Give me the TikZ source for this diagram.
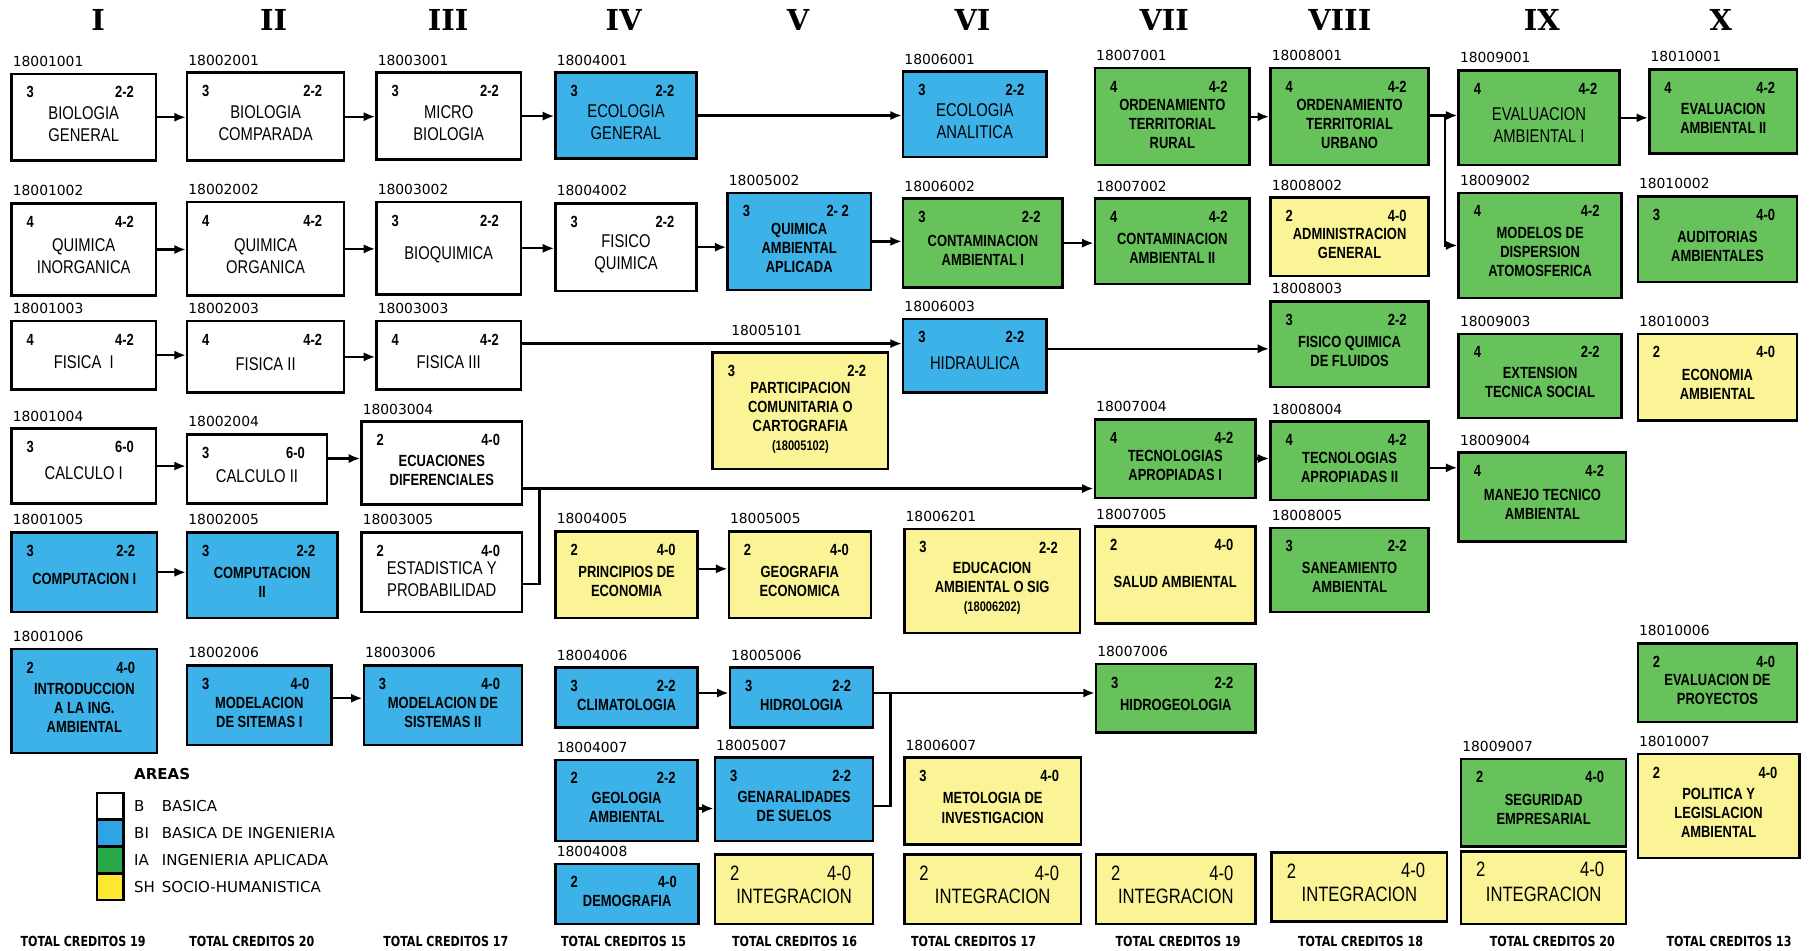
\documentclass[tikz,border=0pt]{standalone}
\usepackage{fontspec}
\setmainfont{Liberation Sans}
\newfontfamily\angosta[FakeStretch=0.8]{Liberation Sans}
\newfontfamily\codfont{DejaVu Sans}
\newfontfamily\totfont[FakeStretch=0.8]{DejaVu Sans}
\newfontfamily\romfont{DejaVu Serif}
\usetikzlibrary{
    arrows.meta,
    calc,
    positioning
}
\definecolor{azul}{RGB}{60,178,232}
\definecolor{verde}{RGB}{104,194,92}
\definecolor{amarillo}{RGB}{250,244,150}
\definecolor{azulley}{RGB}{45,165,228}
\definecolor{verdeley}{RGB}{40,168,72}
\definecolor{amarilloley}{RGB}{252,232,50}
\tikzset{
    caja/.style={draw=black, line width=2.2pt, rectangle, inner sep=0pt},
    basica/.style={fill=white},
    bing/.style={fill=azul},
    iapl/.style={fill=verde},
    sohu/.style={fill=amarillo},
    tit/.style={font=\angosta\fontsize{16}{19}\selectfont, align=center, inner sep=0pt},
    negrita/.style={font=\angosta\bfseries\fontsize{14}{16.5}\selectfont},
    cred/.style={font=\angosta\bfseries\fontsize{14}{14}\selectfont, inner sep=0pt},
    codigo/.style={font=\codfont\fontsize{12}{12}\selectfont, inner sep=0pt},
    flecha/.style={line width=2pt, -{Latex[length=10pt, width=8pt]}},
    linea/.style={line width=2pt},
    romano/.style={font=\romfont\bfseries\fontsize{25}{25}\selectfont, inner sep=0pt},
    total/.style={font=\totfont\bfseries\fontsize{12}{12}\selectfont, inner sep=0pt},
    muestra/.style={draw=black, line width=2pt, minimum width=23pt, minimum height=23pt, inner sep=0pt},
    leytxt/.style={font=\codfont\fontsize{13}{13}\selectfont, inner sep=0pt, anchor=west}
}
\newcommand{\materia}[9]{%
    \node[caja, #5, minimum width=#3pt, minimum height=#4pt] (#1) at #2 {};
    \node[tit, #5, fill=none] (#1-t) at ([yshift=-6pt]#1.center) {#9};
    \node[cred, anchor=west] (#1-c) at ([xshift=14pt, yshift=-17pt]#1.north west) {#7};
    \node[cred, anchor=east] (#1-h) at ([xshift=-20pt, yshift=-17pt]#1.north east) {#8};
    \node[codigo, anchor=south west] (#1-k) at ([xshift=2pt, yshift=5pt]#1.north west) {#6};
}
\newcommand{\grande}[1]{{\mdseries\fontsize{18}{18}\selectfont #1}}

\begin{document}
\begin{tikzpicture}[x=1pt, y=-1pt]
    \fill[white] (0, 0) rectangle (1568, 823);
    \useasboundingbox (0, 0) rectangle (1568, 823);

    \node[romano] (r1) at (85, 17) {I};
    \node[romano] (r2) at (237, 17) {II};
    \node[romano] (r3) at (388, 17) {III};
    \node[romano] (r4) at (540, 17) {IV};
    \node[romano] (r5) at (691, 17) {V};
    \node[romano] (r6) at (842, 17) {VI};
    \node[romano] (r7) at (1008, 17) {VII};
    \node[romano] (r8) at (1160, 17) {VIII};
    \node[romano] (r9) at (1335, 17) {IX};
    \node[romano] (r10) at (1490, 17) {X};

    \materia{a1}{(72.5, 101.5)}{125}{75}{basica}{18001001}{3}{2-2}{BIOLOGIA\\GENERAL}
    \materia{a2}{(72.5, 216)}{125}{80}{basica}{18001002}{4}{4-2}{QUIMICA\\INORGANICA}
    \materia{a3}{(72.5, 307.5)}{125}{59}{basica}{18001003}{4}{4-2}{FISICA~~I}
    \materia{a4}{(72.5, 403.5)}{125}{65}{basica}{18001004}{3}{6-0}{CALCULO I}
    \materia{a5}{(73, 495.5)}{126}{69}{bing, negrita}{18001005}{3}{2-2}{COMPUTACION I}
    \materia{a6}{(73, 607)}{126}{90}{bing, negrita}{18001006}{2}{4-0}{INTRODUCCION\\A LA ING.\\AMBIENTAL}

    \materia{b1}{(230, 101)}{136}{76}{basica}{18002001}{3}{2-2}{BIOLOGIA\\COMPARADA}
    \materia{b2}{(230, 215.5)}{136}{81}{basica}{18002002}{4}{4-2}{QUIMICA\\ORGANICA}
    \materia{b3}{(230, 309)}{136}{62}{basica}{18002003}{4}{4-2}{FISICA II}
    \materia{b4}{(222.5, 406)}{121}{60}{basica}{18002004}{3}{6-0}{CALCULO II}
    \materia{b5}{(227, 498)}{130}{74}{bing, negrita}{18002005}{3}{2-2}{COMPUTACION\\II}
    \materia{b6}{(224.5, 610.5)}{125}{69}{bing, negrita}{18002006}{3}{4-0}{MODELACION\\DE SITEMAS I}

    \materia{c1}{(388.5, 100.5)}{125}{75}{basica}{18003001}{3}{2-2}{MICRO\\BIOLOGIA}
    \materia{c2}{(388.5, 215)}{125}{80}{basica}{18003002}{3}{2-2}{BIOQUIMICA}
    \materia{c3}{(388.5, 307.5)}{125}{59}{basica}{18003003}{4}{4-2}{FISICA III}
    \materia{c4}{(382.5, 401)}{139}{72}{basica, negrita}{18003004}{2}{4-0}{ECUACIONES\\DIFERENCIALES}
    \materia{c5}{(382.5, 495.5)}{139}{69}{basica}{18003005}{2}{4-0}{ESTADISTICA Y\\PROBABILIDAD}
    \materia{c6}{(383.5, 610.5)}{137}{69}{bing, negrita}{18003006}{3}{4-0}{MODELACION DE\\SISTEMAS II}

    \materia{d1}{(542, 100)}{122}{74}{bing}{18004001}{3}{2-2}{ECOLOGIA\\GENERAL}
    \materia{d2}{(542, 214)}{122}{76}{basica}{18004002}{3}{2-2}{FISICO\\QUIMICA}
    \materia{d5}{(542.5, 497.5)}{123}{75}{sohu, negrita}{18004005}{2}{4-0}{PRINCIPIOS DE\\ECONOMIA}
    \materia{d6}{(542.5, 604)}{123}{52}{bing, negrita}{18004006}{3}{2-2}{CLIMATOLOGIA}
    \materia{d7}{(542.5, 693)}{123}{70}{bing, negrita}{18004007}{2}{2-2}{GEOLOGIA\\AMBIENTAL}
    \materia{d8}{(543, 774)}{124}{52}{bing, negrita}{18004008}{2}{4-0}{DEMOGRAFIA}

    \materia{e2}{(692, 209)}{124}{84}{bing, negrita}{18005002}{3}{2- 2}{QUIMICA\\AMBIENTAL\\APLICADA}
    \materia{e3}{(693, 355.5)}{152}{101}{sohu, negrita}{}{3}{2-2}{PARTICIPACION\\COMUNITARIA O\\CARTOGRAFIA\\{\fontsize{12}{14}\selectfont(18005102)}}
    \node[codigo, anchor=west] (e3-k2) at (633, 286) {18005101};
    \materia{e5}{(692.5, 497.5)}{123}{75}{sohu, negrita}{18005005}{2}{4-0}{GEOGRAFIA\\ECONOMICA}
    \materia{e6}{(694, 604)}{124}{52}{bing, negrita}{18005006}{3}{2-2}{HIDROLOGIA}
    \materia{e7}{(687.5, 692)}{137}{72}{bing, negrita}{18005007}{3}{2-2}{GENARALIDADES\\DE SUELOS}
    \materia{e8}{(687.5, 770)}{137}{60}{sohu}{}{\grande{2}}{\grande{4-0}}{\grande{INTEGRACION}}

    \materia{f1}{(844, 99)}{124}{74}{bing}{18006001}{3}{2-2}{ECOLOGIA\\ANALITICA}
    \materia{f2}{(851, 210.5)}{138}{77}{iapl, negrita}{18006002}{3}{2-2}{CONTAMINACION\\AMBIENTAL I}
    \materia{f3}{(844, 308)}{124}{64}{bing}{18006003}{3}{2-2}{HIDRAULICA}
    \materia{f4}{(859, 503)}{152}{90}{sohu, negrita}{18006201}{3}{2-2}{EDUCACION\\AMBIENTAL O SIG\\{\fontsize{12}{14}\selectfont(18006202)}}
    \materia{f7}{(859.5, 693.5)}{153}{75}{sohu, negrita}{18006007}{3}{4-0}{METOLOGIA DE\\INVESTIGACION}
    \materia{f8}{(859.5, 770)}{153}{60}{sohu}{}{\grande{2}}{\grande{4-0}}{\grande{INTEGRACION}}

    \materia{g1}{(1015, 101)}{134}{84}{iapl, negrita}{18007001}{4}{4-2}{ORDENAMIENTO\\TERRITORIAL\\RURAL}
    \materia{g2}{(1015, 209)}{134}{74}{iapl, negrita}{18007002}{4}{4-2}{CONTAMINACION\\AMBIENTAL II}
    \materia{g4}{(1017.5, 397)}{139}{68}{iapl, negrita}{18007004}{4}{4-2}{TECNOLOGIAS\\APROPIADAS I}
    \materia{g5}{(1017.5, 498)}{139}{84}{sohu, negrita}{18007005}{2}{4-0}{SALUD AMBIENTAL}
    \materia{g6}{(1018, 604.5)}{138}{59}{iapl, negrita}{18007006}{3}{2-2}{HIDROGEOLOGIA}
    \materia{g8}{(1018, 770)}{138}{60}{sohu}{}{\grande{2}}{\grande{4-0}}{\grande{INTEGRACION}}

    \materia{h1}{(1168.5, 101)}{137}{84}{iapl, negrita}{18008001}{4}{4-2}{ORDENAMIENTO\\TERRITORIAL\\URBANO}
    \materia{h2}{(1168.5, 205)}{137}{68}{sohu, negrita}{18008002}{2}{4-0}{ADMINISTRACION\\GENERAL}
    \materia{h3}{(1168.5, 298)}{137}{74}{iapl, negrita}{18008003}{3}{2-2}{FISICO QUIMICA\\DE FLUIDOS}
    \materia{h4}{(1168.5, 399)}{137}{68}{iapl, negrita}{18008004}{4}{4-2}{TECNOLOGIAS\\APROPIADAS II}
    \materia{h5}{(1168.5, 493.5)}{137}{73}{iapl, negrita}{18008005}{3}{2-2}{SANEAMIENTO\\AMBIENTAL}
    \materia{h8}{(1177, 768)}{152}{60}{sohu}{}{\grande{2}}{\grande{4-0}}{\grande{INTEGRACION}}

    \materia{i1}{(1332.5, 102)}{139}{82}{iapl}{18009001}{4}{4-2}{EVALUACION\\AMBIENTAL I}
    \materia{i2}{(1333.5, 212.5)}{141}{91}{iapl, negrita}{18009002}{4}{4-2}{MODELOS DE\\DISPERSION\\ATOMOSFERICA}
    \materia{i3}{(1333.5, 325.5)}{141}{73}{iapl, negrita}{18009003}{4}{2-2}{EXTENSION\\TECNICA SOCIAL}
    \materia{i4}{(1335.5, 430.5)}{145}{77}{iapl, negrita}{18009004}{4}{4-2}{MANEJO TECNICO\\AMBIENTAL}
    \materia{i7}{(1336.5, 695)}{143}{76}{iapl, negrita}{18009007}{2}{4-0}{SEGURIDAD\\EMPRESARIAL}
    \materia{i8}{(1336.5, 768.5)}{143}{63}{sohu}{}{\grande{2}}{\grande{4-0}}{\grande{INTEGRACION}}

    \materia{j1}{(1492, 96.5)}{128}{73}{iapl, negrita}{18010001}{4}{4-2}{EVALUACION\\AMBIENTAL II}
    \materia{j2}{(1487, 207)}{138}{74}{iapl, negrita}{18010002}{3}{4-0}{AUDITORIAS\\AMBIENTALES}
    \materia{j3}{(1487, 326.5)}{138}{75}{sohu, negrita}{18010003}{2}{4-0}{ECONOMIA\\AMBIENTAL}
    \materia{j6}{(1487, 591)}{138}{68}{iapl, negrita}{18010006}{2}{4-0}{EVALUACION DE\\PROYECTOS}
    \materia{j7}{(1488, 698)}{140}{90}{sohu, negrita}{18010007}{2}{4-0}{POLITICA Y\\LEGISLACION\\AMBIENTAL}

    \draw[flecha] (a1.east) -- (a1.east -| b1.west);
    \draw[flecha] (b1.east) -- (b1.east -| c1.west);
    \draw[flecha] (c1.east) -- (c1.east -| d1.west);
    \draw[flecha] (d1.east) -- (d1.east -| f1.west);
    \draw[flecha] (a2.east) -- (a2.east -| b2.west);
    \draw[flecha] (b2.east) -- (b2.east -| c2.west);
    \draw[flecha] (c2.east) -- (c2.east -| d2.west);
    \draw[flecha] (d2.east) -- (d2.east -| e2.west);
    \draw[flecha] (e2.east) -- (e2.east -| f2.west);
    \draw[flecha] (f2.east) -- (f2.east -| g2.west);
    \draw[flecha] (a3.east) -- (a3.east -| b3.west);
    \draw[flecha] (b3.east) -- (b3.east -| c3.west);
    \coordinate (fis) at ([yshift=10pt]c3.east);
    \draw[flecha] (fis) -- (fis -| f3.west);
    \coordinate (hid) at ([yshift=6pt]f3.east);
    \draw[flecha] (hid) -- (hid -| h3.west);
    \draw[flecha] (a4.east) -- (a4.east -| b4.west);
    \coordinate (cal) at ([yshift=9pt]b4.east);
    \draw[flecha] (cal) -- (cal -| c4.west);
    \coordinate (ecu) at ([yshift=-22pt]c4.east);
    \draw[flecha] (ecu) -- (ecu -| g4.west);
    \coordinate (union) at ([xshift=14pt]ecu);
    \draw[linea] ([yshift=-10pt]c5.east) -| (union);
    \draw[flecha] (g4.east) -- (g4.east -| h4.west);
    \coordinate (tec) at ([yshift=-6pt]h4.east);
    \draw[flecha] (tec) -- (tec -| i4.west);
    \draw[flecha] (a5.east) -- (a5.east -| b5.west);
    \coordinate (mod) at ([yshift=6pt]b6.east);
    \draw[flecha] (mod) -- (mod -| c6.west);
    \coordinate (pri) at ([yshift=5pt]d5.east);
    \draw[flecha] (pri) -- (pri -| e5.west);
    \coordinate (cli) at ([yshift=4pt]d6.east);
    \draw[flecha] (cli) -- (cli -| e6.west);
    \coordinate (hidro) at ([yshift=4pt]e6.east);
    \draw[flecha] (hidro) -- (hidro -| g6.west);
    \coordinate (cruce) at ([xshift=14pt]hidro);
    \draw[linea] ([yshift=-6pt]e7.east) -| (cruce);
    \coordinate (geo) at ([yshift=-7pt]d7.east);
    \draw[flecha] (geo) -- (geo -| e7.west);
    \draw[flecha] (g1.east) -- (g1.east -| h1.west);
    \coordinate (urb) at ([yshift=1pt]h1.east);
    \draw[flecha] (urb) -- (urb -| i1.west);
    \coordinate (rama) at ([xshift=13pt]urb);
    \draw[flecha] (rama) |- (i2.west);
    \draw[flecha] (i1.east) -- (i1.east -| j1.west);

    \node[font=\codfont\bfseries\fontsize{13}{13}\selectfont, inner sep=0pt, anchor=west] (areas) at (116, 670) {AREAS};
    \node[muestra, fill=amarilloley] (m4) at (95.5, 768) {};
    \node[muestra, fill=verdeley] (m3) at (95.5, 744.5) {};
    \node[muestra, fill=azulley] (m2) at (95.5, 721.5) {};
    \node[muestra, fill=white] (m1) at (95.5, 698) {};
    \node[leytxt] (l1) at (116, 698) {B};
    \node[leytxt] (l2) at (116, 721.5) {BI};
    \node[leytxt] (l3) at (116, 744.5) {IA};
    \node[leytxt] (l4) at (116, 768) {SH};
    \node[leytxt] (n1) at (140, 698) {BASICA};
    \node[leytxt] (n2) at (140, 721.5) {BASICA DE INGENIERIA};
    \node[leytxt] (n3) at (140, 744.5) {INGENIERIA APLICADA};
    \node[leytxt] (n4) at (140, 768) {SOCIO-HUMANISTICA};

    \node[total] (t1) at (72, 815) {TOTAL CREDITOS 19};
    \node[total] (t2) at (218, 815) {TOTAL CREDITOS 20};
    \node[total] (t3) at (386, 815) {TOTAL CREDITOS 17};
    \node[total] (t4) at (540, 815) {TOTAL CREDITOS 15};
    \node[total] (t5) at (688, 815) {TOTAL CREDITOS 16};
    \node[total] (t6) at (843, 815) {TOTAL CREDITOS 17};
    \node[total] (t7) at (1020, 815) {TOTAL CREDITOS 19};
    \node[total] (t8) at (1178, 815) {TOTAL CREDITOS 18};
    \node[total] (t9) at (1344, 815) {TOTAL CREDITOS 20};
    \node[total] (t10) at (1497, 815) {TOTAL CREDITOS 13};
\end{tikzpicture}
\end{document}
